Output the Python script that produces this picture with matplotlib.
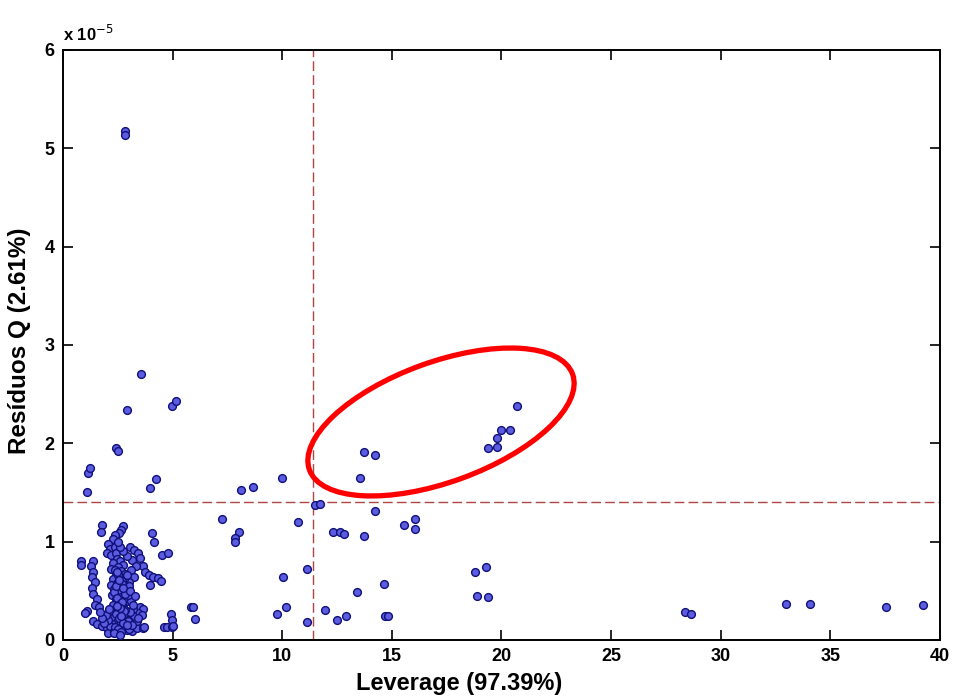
import numpy as np
import matplotlib
matplotlib.use('Agg')
import matplotlib.pyplot as plt
from matplotlib.patches import Ellipse

# Leverage (%) and Q residuals (in units of 1e-5)
lev_out = [2.83, 2.83, 3.56, 2.92, 2.42, 2.50, 1.14, 1.23, 1.09, 3.97, 4.24, 4.97, 5.15]
res_out = [5.18, 5.14, 2.70, 2.34, 1.95, 1.92, 1.70, 1.75, 1.50, 1.55, 1.64, 2.38, 2.43]

lev_mid = [9.99, 8.12, 8.66, 7.25, 8.03, 7.84, 7.84, 10.72, 11.49, 11.72, 13.73, 14.23,
           13.54, 14.23, 15.55, 16.05, 16.05, 12.31, 12.63, 12.81, 13.73, 11.13, 10.03,
           14.64, 13.41, 10.17, 9.76, 11.95, 12.90, 12.49, 11.13, 14.68, 14.82]
res_mid = [1.65, 1.53, 1.56, 1.23, 1.10, 1.04, 1.00, 1.20, 1.37, 1.38, 1.91, 1.88,
           1.65, 1.31, 1.17, 1.23, 1.13, 1.10, 1.10, 1.08, 1.06, 0.72, 0.64,
           0.57, 0.49, 0.34, 0.26, 0.30, 0.24, 0.20, 0.18, 0.24, 0.24]

lev_high = [20.70, 19.97, 20.38, 19.79, 19.38, 19.79, 18.79, 19.29, 18.88, 19.38,
            28.36, 28.64, 32.97, 34.06, 37.53, 39.22]
res_high = [2.38, 2.14, 2.14, 2.05, 1.95, 1.96, 0.69, 0.74, 0.45, 0.44,
            0.28, 0.26, 0.37, 0.37, 0.34, 0.36]

# dense group near the origin
lev_clu = [0.80, 0.80, 1.35, 1.26, 1.38, 1.31, 1.46, 1.31, 1.38, 1.54, 1.46, 1.66,
           1.08, 1.00, 1.38, 1.54, 1.76, 1.99, 2.29, 2.60, 2.90, 3.13, 3.36, 3.66, 2.07, 2.45,
           1.76, 1.72, 2.72, 2.63, 2.54, 2.37, 2.29, 2.07, 2.14, 2.37, 1.99, 2.21, 2.44,
           3.06, 3.24, 3.44, 3.51, 3.15, 3.66, 3.74, 3.94, 4.12, 4.32, 4.47, 3.32, 3.09,
           3.24, 3.02, 2.80, 3.97,
           3.51, 3.66, 3.44, 3.21, 3.21, 2.98, 3.36, 3.59, 3.69,
           4.04, 4.15, 4.53, 4.80, 5.82, 5.94, 6.02, 4.91, 4.98, 4.60, 4.76, 4.98, 5.03,
           2.45, 2.60, 2.30, 2.75, 2.50, 2.20, 2.65, 2.40, 2.85, 2.55, 2.30, 2.70, 2.45,
           2.20, 2.60, 2.35, 2.80, 2.50, 2.25, 2.65, 2.40, 2.90, 2.55, 2.30, 2.75, 2.45,
           2.60, 2.20, 2.85, 2.50, 2.35, 2.70, 2.95, 2.45, 2.25, 2.60, 2.80, 2.40, 3.00,
           2.55, 2.15, 2.05, 1.95, 1.85, 2.10, 3.05, 3.10, 2.95, 3.00, 2.90, 2.75, 2.60,
           2.50, 2.85, 3.15, 2.65, 2.35, 1.80, 1.70,
           2.38, 2.52, 2.68, 2.33, 2.47, 2.62, 2.78, 2.42, 2.57, 2.72, 2.36, 2.51, 2.66,
           2.82, 2.41, 2.56, 2.71, 2.46, 2.61, 2.76, 2.31, 2.48, 2.63, 2.93, 3.08, 3.28,
           3.40, 3.18, 2.92, 2.58]
res_clu = [0.80, 0.76, 0.80, 0.75, 0.69, 0.64, 0.59, 0.53, 0.47, 0.42, 0.36, 0.34,
           0.29, 0.27, 0.19, 0.16, 0.14, 0.12, 0.10, 0.095, 0.10, 0.095, 0.12, 0.12, 0.07, 0.08,
           1.17, 1.10, 1.16, 1.12, 1.09, 1.07, 1.03, 0.98, 0.93, 0.95, 0.88, 0.86, 0.88,
           0.95, 0.92, 0.88, 0.83, 0.81, 0.75, 0.69, 0.66, 0.64, 0.63, 0.60, 0.75, 0.71,
           0.64, 0.59, 0.62, 0.56,
           0.34, 0.31, 0.27, 0.31, 0.24, 0.20, 0.19, 0.25, 0.13,
           1.09, 1.00, 0.865, 0.88, 0.34, 0.34, 0.21, 0.26, 0.20, 0.135, 0.135, 0.135, 0.14,
           0.82, 0.80, 0.78, 0.76, 0.74, 0.72, 0.70, 0.68, 0.67, 0.64, 0.62, 0.60, 0.58,
           0.56, 0.54, 0.52, 0.50, 0.48, 0.46, 0.44, 0.42, 0.40, 0.38, 0.36, 0.34, 0.32,
           0.30, 0.28, 0.27, 0.25, 0.23, 0.21, 0.19, 0.18, 0.16, 0.15, 0.13, 0.12, 0.11,
           0.09, 0.14, 0.20, 0.25, 0.17, 0.32, 0.28, 0.40, 0.46, 0.55, 0.85, 0.90, 0.95,
           1.00, 0.30, 0.15, 0.11, 0.09, 0.22, 0.28,
           0.71, 0.66, 0.57, 0.49, 0.43, 0.37, 0.29, 0.26, 0.22, 0.17, 0.13, 0.11, 0.24,
           0.47, 0.55, 0.61, 0.39, 0.69, 0.33, 0.53, 0.07, 0.35, 0.08, 0.66, 0.50, 0.45,
           0.22, 0.36, 0.15, 0.05]

lev_lim = 11.4     # leverage limit
res_lim = 1.40     # Q residual limit (x 1e-5)

lev = np.array(lev_out + lev_mid + lev_high + lev_clu)
res = np.array(res_out + res_mid + res_high + res_clu)

plt.rcParams['font.family'] = ['Liberation Sans', 'DejaVu Sans']

fig = plt.figure(figsize=(9.54, 6.96), dpi=100)
ax = fig.add_axes([0.066, 0.0805, 0.9193, 0.8477])

ax.plot(lev, res, 'o', ms=5.6, mfc='#5c5ce0', mec='#10107a', mew=1.0, zorder=3)

ax.axvline(lev_lim, color='#b04545', lw=1.0, dashes=(7, 3), zorder=2)
ax.axhline(res_lim, color='#b04545', lw=1.0, dashes=(7, 3), zorder=2)

ax.set_xlim(0, 40)
ax.set_ylim(0, 6)
ax.set_xticks(np.arange(0, 41, 5))
ax.set_yticks(np.arange(0, 7, 1))
ax.tick_params(direction='in', length=7, width=1.2, top=True, right=True,
               labelsize=13, pad=6)
for lab in ax.get_xticklabels() + ax.get_yticklabels():
    lab.set_fontweight('bold')
for sp in ax.spines.values():
    sp.set_linewidth(1.4)

ax.set_xlabel('Leverage (97.39%)', fontsize=17, fontweight='bold')
ax.xaxis.set_label_coords(0.452, -0.054)
ax.set_ylabel('Resíduos Q (2.61%)', fontsize=17.5, fontweight='bold')
ax.yaxis.set_label_coords(-0.037, 0.507)
ax.text(0.0, 1.01, 'x 10$^{-5}$', transform=ax.transAxes, fontsize=12,
        fontweight='bold', ha='left', va='bottom')

# red highlight ellipse
ell = Ellipse((4.41, 2.74), 2.8, 1.2, angle=20, fill=False, ec='red', lw=3.8,
              transform=fig.dpi_scale_trans, zorder=5)
fig.patches.append(ell)

fig.savefig('out.png', dpi=100)
